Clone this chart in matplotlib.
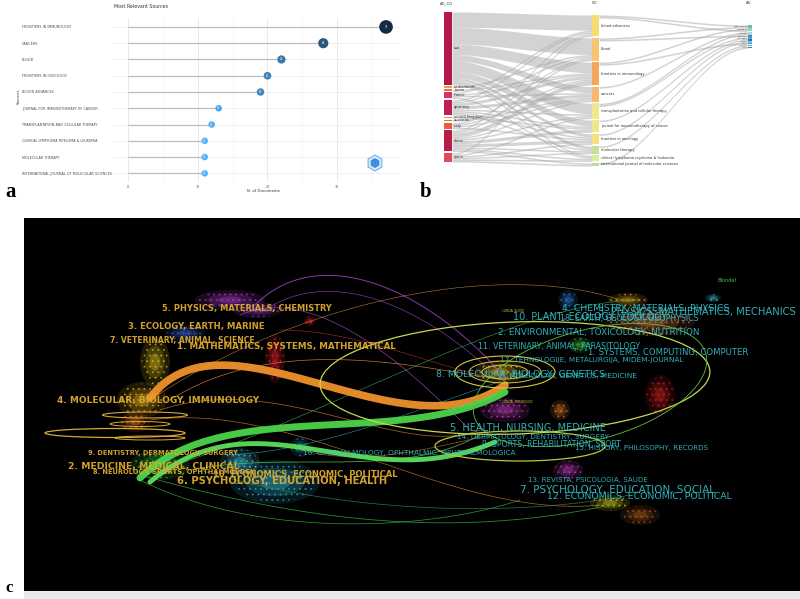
import numpy as np
import matplotlib
matplotlib.use("Agg")
import matplotlib.pyplot as plt
from matplotlib.colors import LinearSegmentedColormap
from matplotlib.patches import Ellipse, Rectangle, RegularPolygon

W, H = 800, 599

# ---------------- panel a data ----------------
sources = ["FRONTIERS IN IMMUNOLOGY", "CANCERS", "BLOOD", "FRONTIERS IN ONCOLOGY",
           "BLOOD ADVANCES", "JOURNAL FOR IMMUNOTHERAPY OF CANCER",
           "TRANSPLANTATION AND CELLULAR THERAPY", "CLINICAL LYMPHOMA MYELOMA & LEUKEMIA",
           "MOLECULAR THERAPY", "INTERNATIONAL JOURNAL OF MOLECULAR SCIENCES"]
n_docs = [37, 28, 22, 20, 19, 13, 12, 11, 11, 11]
x_ticks = [0, 10, 20, 30]

# ---------------- panel b data (three-field plot) ----------------
countries = ["usa", "netherlands", "japan", "france", "germany", "united kingdom",
             "australia", "italy", "china", "spain"]
so_nodes = ["blood advances", "blood", "frontiers in immunology", "cancers",
            "transplantation and cellular therapy", "journal for immunotherapy of cancer",
            "frontiers in oncology", "molecular therapy",
            "clinical lymphoma myeloma & leukemia", "international journal of molecular sciences"]
authors = ["NEELAPU SS", "LOCKE FL", "JAIN MD", "WANG Y", "ZHANG Y",
           "LI Y", "KIM S", "LEE J", "CHEN Y", "LIU Y"]
# rows: countries, cols: sources
co_so = [
    [10, 11, 7, 4, 7, 4, 2, 2, 1, 0],
    [0, 1, 0, 0, 0, 0, 0, 0, 0, 0],
    [0, 0, 1, 0, 0, 0, 0, 0, 0, 0],
    [1, 0, 1, 1, 0, 0, 0, 0, 1, 0],
    [1, 1, 2, 2, 1, 1, 1, 1, 0, 0],
    [0, 0, 0, 0, 0, 1, 0, 0, 0, 0],
    [0, 0, 0, 1, 0, 0, 0, 0, 0, 0],
    [0, 1, 1, 1, 0, 0, 1, 0, 0, 0],
    [1, 1, 3, 1, 1, 2, 2, 1, 1, 1],
    [1, 0, 0, 0, 1, 0, 1, 1, 1, 1],
]
# (source index, author index, value)
so_au = [(0, 0, 1), (1, 0, 1), (2, 1, 1), (0, 1, 1), (3, 2, 1), (4, 2, 1), (1, 3, 1),
         (4, 4, 1), (5, 5, 1), (6, 6, 1), (2, 7, 1), (7, 8, 1), (9, 9, 1)]
country_colors = ["#b2184a", "#f59a4a", "#f0703c", "#d8365a", "#c21f50", "#f28b50",
                  "#e8704a", "#e8603c", "#b81c4c", "#e04a5a"]
so_colors = ["#f7dc6f", "#f8c471", "#f5a65b", "#f8b870", "#eee98e", "#efe88a",
             "#f9e07f", "#c5e09a", "#dcea9a", "#b9dd9d"]
au_colors = ["#66c2a5", "#8fd3c8", "#a6d8e8", "#3f8fc0", "#5aa0d0", "#2f6fb0",
             "#7fbfdf", "#4a9ac8", "#6ab0d8", "#3b7bbf"]

# ---------------- panel c data (dual-map overlay) ----------------
left_labels = ["5. PHYSICS, MATERIALS, CHEMISTRY", "3. ECOLOGY, EARTH, MARINE",
               "7. VETERINARY, ANIMAL, SCIENCE", "1. MATHEMATICS, SYSTEMS, MATHEMATICAL",
               "4. MOLECULAR, BIOLOGY, IMMUNOLOGY", "9. DENTISTRY, DERMATOLOGY, SURGERY",
               "2. MEDICINE, MEDICAL, CLINICAL", "8. NEUROLOGY, SPORTS, OPHTHALMOLOGY",
               "10. ECONOMICS, ECONOMIC, POLITICAL", "6. PSYCHOLOGY, EDUCATION, HEALTH"]
left_x0 = [162, 128, 110, 177, 57, 88, 68, 93, 213, 177]
left_x1 = [332, 264, 255, 398, 257, 237, 240, 255, 398, 388]
left_y = [308, 327, 341, 346, 401, 453, 467, 472, 474, 481]

right_labels = ["4. CHEMISTRY, MATERIALS, PHYSICS", "3. PHYSICS, MATHEMATICS, MECHANICS",
                "10. PLANT, ECOLOGY, ZOOLOGY", "18. EARTH, GEOLOGY, GEOPHYSICS",
                "2. ENVIRONMENTAL, TOXICOLOGY, NUTRITION", "11. VETERINARY, ANIMAL, PARASITOLOGY",
                "1. SYSTEMS, COMPUTING, COMPUTER", "17. TEHNOLOGIJE, METALURGIJA, MIDEM-JOURNAL",
                "6. MOLECULAR, GENETICS, MEDICINE", "8. MOLECULAR, BIOLOGY, GENETICS",
                "5. HEALTH, NURSING, MEDICINE", "14. DERMATOLOGY, DENTISTRY, SURGERY",
                "9. SPORTS, REHABILITATION, SPORT", "15. HISTORY, PHILOSOPHY, RECORDS",
                "16. OPHTHALMOLOGY, OPHTHALMIC, OPHTHALMOLOGICA", "13. REVISTA, PSICOLOGIA, SAUDE",
                "7. PSYCHOLOGY, EDUCATION, SOCIAL", "12. ECONOMICS, ECONOMIC, POLITICAL"]
right_x0 = [562, 598, 513, 560, 498, 478, 588, 500, 500, 436, 450, 457, 482, 575, 303, 528, 520, 547]
right_x1 = [732, 798, 668, 700, 701, 643, 749, 687, 639, 607, 607, 611, 623, 709, 517, 648, 716, 734]
right_y = [308, 312, 317, 318, 333, 347, 353, 360, 376, 375, 428, 437, 444, 448, 453, 480, 490, 496]

# clusters of journals: centre x, centre y, radius x, radius y, colour
clusters = [
    (230, 300, 35, 10, "#b040d0"), (258, 310, 25, 8, "#9a40c0"), (185, 333, 20, 8, "#4060e0"),
    (275, 358, 10, 25, "#e02030"), (310, 321, 6, 5, "#ff2030"), (155, 362, 15, 25, "#e0c020"),
    (142, 400, 25, 18, "#e8b020"), (135, 422, 15, 10, "#e07020"), (160, 465, 30, 15, "#40d040"),
    (275, 482, 45, 22, "#30b0d0"), (240, 462, 20, 14, "#40c0e0"), (300, 447, 10, 10, "#2090c0"),
    (568, 300, 10, 10, "#3080e0"), (628, 300, 20, 7, "#e0a020"), (713, 298, 8, 4, "#40d0e0"),
    (650, 322, 45, 14, "#c07040"), (580, 345, 12, 8, "#40c040"), (660, 395, 15, 20, "#d02020"),
    (500, 372, 25, 12, "#e0c030"), (505, 410, 25, 12, "#c040c0"), (560, 410, 10, 10, "#e08030"),
    (568, 470, 15, 10, "#c040c0"), (610, 503, 20, 8, "#e0d020"), (640, 515, 20, 10, "#b06020"),
]
# thick citation trajectories: start, two control points, end, colour, width
thick_links = [
    ((150, 398), (225, 300), (400, 460), (505, 385), "#f0922b", 5.5),
    ((140, 478), (225, 395), (400, 450), (505, 392), "#4cd44c", 5.0),
    ((150, 482), (260, 390), (360, 500), (495, 442), "#5ce05c", 3.5),
]
# thin citation trajectories
thin_links = [
    ((255, 305), (320, 240), (430, 290), (505, 378), "#a040d0", 0.7),
    ((265, 310), (340, 260), (440, 320), (500, 380), "#9040c0", 0.5),
    ((240, 315), (320, 280), (420, 380), (470, 430), "#a848c8", 0.5),
    ((170, 400), (280, 330), (430, 370), (505, 380), "#e08a30", 0.5),
    ((160, 410), (280, 370), (400, 460), (480, 430), "#d07a30", 0.5),
    ((150, 420), (300, 400), (450, 520), (600, 505), "#c8782c", 0.5),
    ((140, 475), (300, 520), (450, 540), (610, 505), "#30a040", 0.6),
    ((140, 480), (260, 540), (430, 530), (520, 500), "#40b040", 0.5),
    ((190, 470), (290, 450), (400, 480), (480, 435), "#50c050", 0.6),
    ((200, 470), (330, 510), (500, 520), (630, 495), "#2e8b57", 0.5),
    ((230, 455), (330, 450), (440, 400), (505, 380), "#30b0c0", 0.4),
    ((300, 450), (380, 470), (450, 440), (520, 430), "#c0602a", 0.5),
    ((280, 330), (360, 330), (440, 370), (505, 380), "#d03030", 0.4),
    ((160, 470), (320, 420), (520, 300), (640, 300), "#40c060", 0.4),
    ((150, 400), (300, 300), (500, 260), (620, 300), "#d09040", 0.4),
]
# density ellipses: centre x, centre y, width, height, angle, colour
ellipses = [
    (515, 378, 390, 112, -2, "#c8d850", 0.9), (590, 385, 240, 110, -15, "#60c040", 0.6),
    (520, 446, 170, 30, 0, "#b8c840", 0.9), (505, 372, 100, 32, 0, "#d8c840", 0.8),
    (505, 372, 72, 22, 0, "#d8c840", 0.7), (505, 372, 46, 14, 0, "#d8c840", 0.7),
    (115, 433, 140, 9, 0, "#d9a832", 0.9), (145, 415, 85, 6, 0, "#d9a832", 0.8),
    (140, 424, 60, 5, 0, "#d9a832", 0.7), (150, 438, 70, 4, 0, "#d9a832", 0.7),
]

plt.rcParams["hatch.linewidth"] = 0.7
fig = plt.figure(figsize=(W / 100, H / 100), dpi=100)


def px_axes(x0, y0, x1, y1, **kw):
    return fig.add_axes([x0 / W, 1 - y1 / H, (x1 - x0) / W, (y1 - y0) / H], **kw)


# ======================= panel a =======================
ax = px_axes(113, 18, 400, 182)
ypos = np.arange(len(sources))[::-1]
ax.set_xlim(-2.15, 39.0)
ax.set_ylim(-0.535, 9.55)
for v in [5, 15, 25, 35]:
    ax.axvline(v, color="#f3f3f3", lw=0.4, zorder=0)
for v in x_ticks:
    ax.axvline(v, color="#e6e6e6", lw=0.6, zorder=0)
for y in ypos:
    ax.axhline(y, color="#ebebeb", lw=0.5, zorder=0)
ax.hlines(ypos, 0, n_docs, color="#bdbdbd", lw=0.9, zorder=1)
cmap = LinearSegmentedColormap.from_list("gg", ["#56B1F7", "#132B43"])
vals = np.array(n_docs)
sizes = 22 + (vals - vals.min()) ** 2 * 0.11
ax.scatter(vals, ypos, s=sizes, c=vals, cmap=cmap, vmin=vals.min(), vmax=vals.max(),
           zorder=3, linewidths=0)
for v, y in zip(vals, ypos):
    ax.text(v, y, str(v), color="white", fontsize=1.8, ha="center", va="center", zorder=4)
ax.set_xticks(x_ticks)
ax.set_xticklabels([str(t) for t in x_ticks], fontsize=2.4, color="#555555")
ax.set_yticks(ypos)
ax.set_yticklabels(sources, fontsize=2.4, color="#4d4d4d")
ax.tick_params(axis="y", length=0, pad=65.5)
ax.tick_params(axis="x", length=0, pad=2)
for lab in ax.get_yticklabels():
    lab.set_horizontalalignment("left")
for s in ax.spines.values():
    s.set_visible(False)

# ======================= panel b =======================
axb = px_axes(420, 0, 800, 178)
axb.set_xlim(420, 800)
axb.set_ylim(178, 0)
axb.axis("off")

flows = np.array(co_so, dtype=float)
scale = 1.517
co_tot = flows.sum(axis=1)
so_tot = flows.sum(axis=0)


def stack(totals, top, bottom):
    gap = (bottom - top - totals.sum() * scale) / (len(totals) - 1)
    starts, y = [], top
    for t in totals:
        starts.append(y)
        y += t * scale + gap
    return np.array(starts)


co_y = stack(co_tot, 12, 162)
so_y = stack(so_tot, 15, 166)
au_tot = np.zeros(len(authors))
for s_i, a_i, v in so_au:
    au_tot[a_i] += v
au_y = []
y = 25.0
for t in au_tot:
    au_y.append(y)
    y += t * scale + 0.4
au_y = np.array(au_y)

u = np.linspace(0, 1, 60)
sm = u * u * (3 - 2 * u)


def band(x0, x1, a0, b0, a1, b1, color, alpha):
    xs = x0 + (x1 - x0) * u
    axb.fill_between(xs, a0 + (a1 - a0) * sm, b0 + (b1 - b0) * sm, color=color,
                     alpha=alpha, lw=0, zorder=1)


LX0, LX1, MX0, MX1, RX0, RX1 = 444, 452, 592, 599, 748, 752
co_off = co_y.copy()
so_in = so_y.copy()
for i in range(len(countries)):
    for j in range(len(so_nodes)):
        f = flows[i, j] * scale
        if f <= 0:
            continue
        band(LX1, MX0, co_off[i], co_off[i] + f, so_in[j], so_in[j] + f, "#a9a9a9", 0.5)
        co_off[i] += f
        so_in[j] += f

so_out = so_y.copy()
au_in = au_y.copy()
for s_i, a_i, v in so_au:
    f = v * scale
    band(MX1, RX0, so_out[s_i], so_out[s_i] + f, au_in[a_i], au_in[a_i] + f, "#9a9a9a", 0.45)
    so_out[s_i] += f
    au_in[a_i] += f

for i, name in enumerate(countries):
    axb.add_patch(Rectangle((LX0, co_y[i]), LX1 - LX0, co_tot[i] * scale,
                            color=country_colors[i], lw=0, zorder=2))
    axb.text(LX1 + 2, co_y[i] + co_tot[i] * scale / 2, name, fontsize=2.6,
             color="#333333", va="center", zorder=3)
for j, name in enumerate(so_nodes):
    axb.add_patch(Rectangle((MX0, so_y[j]), MX1 - MX0, so_tot[j] * scale,
                            color=so_colors[j], lw=0, zorder=2))
    axb.text(MX1 + 2, so_y[j] + so_tot[j] * scale / 2, name, fontsize=2.6,
             color="#333333", va="center", zorder=3)
for k, name in enumerate(authors):
    axb.add_patch(Rectangle((RX0, au_y[k]), RX1 - RX0, au_tot[k] * scale,
                            color=au_colors[k], lw=0, zorder=2))
    axb.text(RX0 - 1, au_y[k] + au_tot[k] * scale / 2, name, fontsize=1.5,
             color="#333333", va="center", ha="right", zorder=3)
for label, xx in zip(["AU_CO", "SO", "AU"], [447, 595, 749]):
    axb.text(xx, 3, label, fontsize=2.8, color="#333333", ha="center", va="center")

# ======================= panel c =======================
axc = px_axes(24, 218, 800, 591)
axc.set_xlim(24, 800)
axc.set_ylim(591, 218)
axc.set_facecolor("black")
axc.set_xticks([])
axc.set_yticks([])
for s in axc.spines.values():
    s.set_visible(False)

for cx, cy, rx, ry, col in clusters:
    for k, a in [(1.0, 0.14), (0.65, 0.22), (0.35, 0.35)]:
        axc.add_patch(Ellipse((cx, cy), 2 * rx * k, 2 * ry * k, color=col, alpha=a,
                              lw=0, zorder=1))
    axc.add_patch(Ellipse((cx, cy), 1.8 * rx, 1.8 * ry, facecolor="none", edgecolor=col,
                          hatch="...", lw=0, alpha=0.55, zorder=1))

tt = np.linspace(0, 1, 120)[:, None]


def bez(p0, p1, p2, p3):
    p0, p1, p2, p3 = map(np.array, (p0, p1, p2, p3))
    return ((1 - tt) ** 3 * p0 + 3 * (1 - tt) ** 2 * tt * p1
            + 3 * (1 - tt) * tt ** 2 * p2 + tt ** 3 * p3)


for p0, p1, p2, p3, col, lw in thin_links:
    c = bez(p0, p1, p2, p3)
    axc.plot(c[:, 0], c[:, 1], color=col, lw=lw, alpha=0.85, zorder=2)
for p0, p1, p2, p3, col, lw in thick_links:
    c = bez(p0, p1, p2, p3)
    axc.plot(c[:, 0], c[:, 1], color=col, lw=lw, alpha=0.95, zorder=3,
             solid_capstyle="round")
for cx, cy, w, h, ang, col, lw in ellipses:
    axc.add_patch(Ellipse((cx, cy), w, h, angle=ang, fill=False, edgecolor=col, lw=lw,
                          zorder=4))

fig.canvas.draw()
renderer = fig.canvas.get_renderer()


def fit_label(text, x0, x1, yy, color, alpha, weight):
    t = axc.text(x0, yy, text, color=color, fontsize=6, ha="left", va="center",
                 alpha=alpha, zorder=5, fontweight=weight)
    wpx = t.get_window_extent(renderer).width
    t.set_fontsize(6 * (x1 - x0) / wpx)


for s, x0, x1, yy in zip(left_labels, left_x0, left_x1, left_y):
    fit_label(s, x0, x1, yy, "#dcaa30", 0.95, "bold")
for s, x0, x1, yy in zip(right_labels, right_x0, right_x1, right_y):
    fit_label(s, x0, x1, yy, "#35c3cc", 0.9, "normal")
axc.text(717, 280, "Blondel", color="#40c040", fontsize=3.6, va="center")
axc.text(502, 311, "CLINICAL BLOOD", color="#d9c030", fontsize=1.9, va="center")
axc.text(502, 402, "CLINICAL IMMUNOLOGY", color="#d9c030", fontsize=1.9, va="center")

axg = px_axes(24, 591, 800, 599)
axg.set_facecolor("#e9e9e9")
axg.set_xticks([])
axg.set_yticks([])
for s in axg.spines.values():
    s.set_visible(False)

# ======================= overlay: letters, axis titles, logo =======================
ov = px_axes(0, 0, 800, 599, zorder=10)
ov.set_xlim(0, 800)
ov.set_ylim(599, 0)
ov.axis("off")
ov.patch.set_alpha(0)
ov.text(114, 6, "Most Relevant Sources", fontsize=3.4, color="#333333", va="center")
ov.text(19, 96, "Sources", fontsize=2.8, color="#333333", rotation=90, ha="center",
        va="center")
ov.text(263, 191, "N. of Documents", fontsize=2.8, color="#333333", ha="center",
        va="center")
ov.add_patch(RegularPolygon((375, 163), 6, radius=8, orientation=0, facecolor="#d6ecfc",
                            edgecolor="#4a9fe0", lw=0.6))
ov.add_patch(RegularPolygon((375, 163), 6, radius=5, orientation=0, facecolor="#3f8fdc",
                            edgecolor="none"))
for letter, xx, yy, fs in [("a", 5, 197, 15), ("b", 420, 197, 15), ("c", 5, 596, 12)]:
    ov.text(xx, yy, letter, fontsize=fs, fontweight="bold", family="Liberation Serif",
            ha="left", va="bottom" if letter == "c" else "baseline", color="black")

fig.savefig("out.png", dpi=100, facecolor="white")
